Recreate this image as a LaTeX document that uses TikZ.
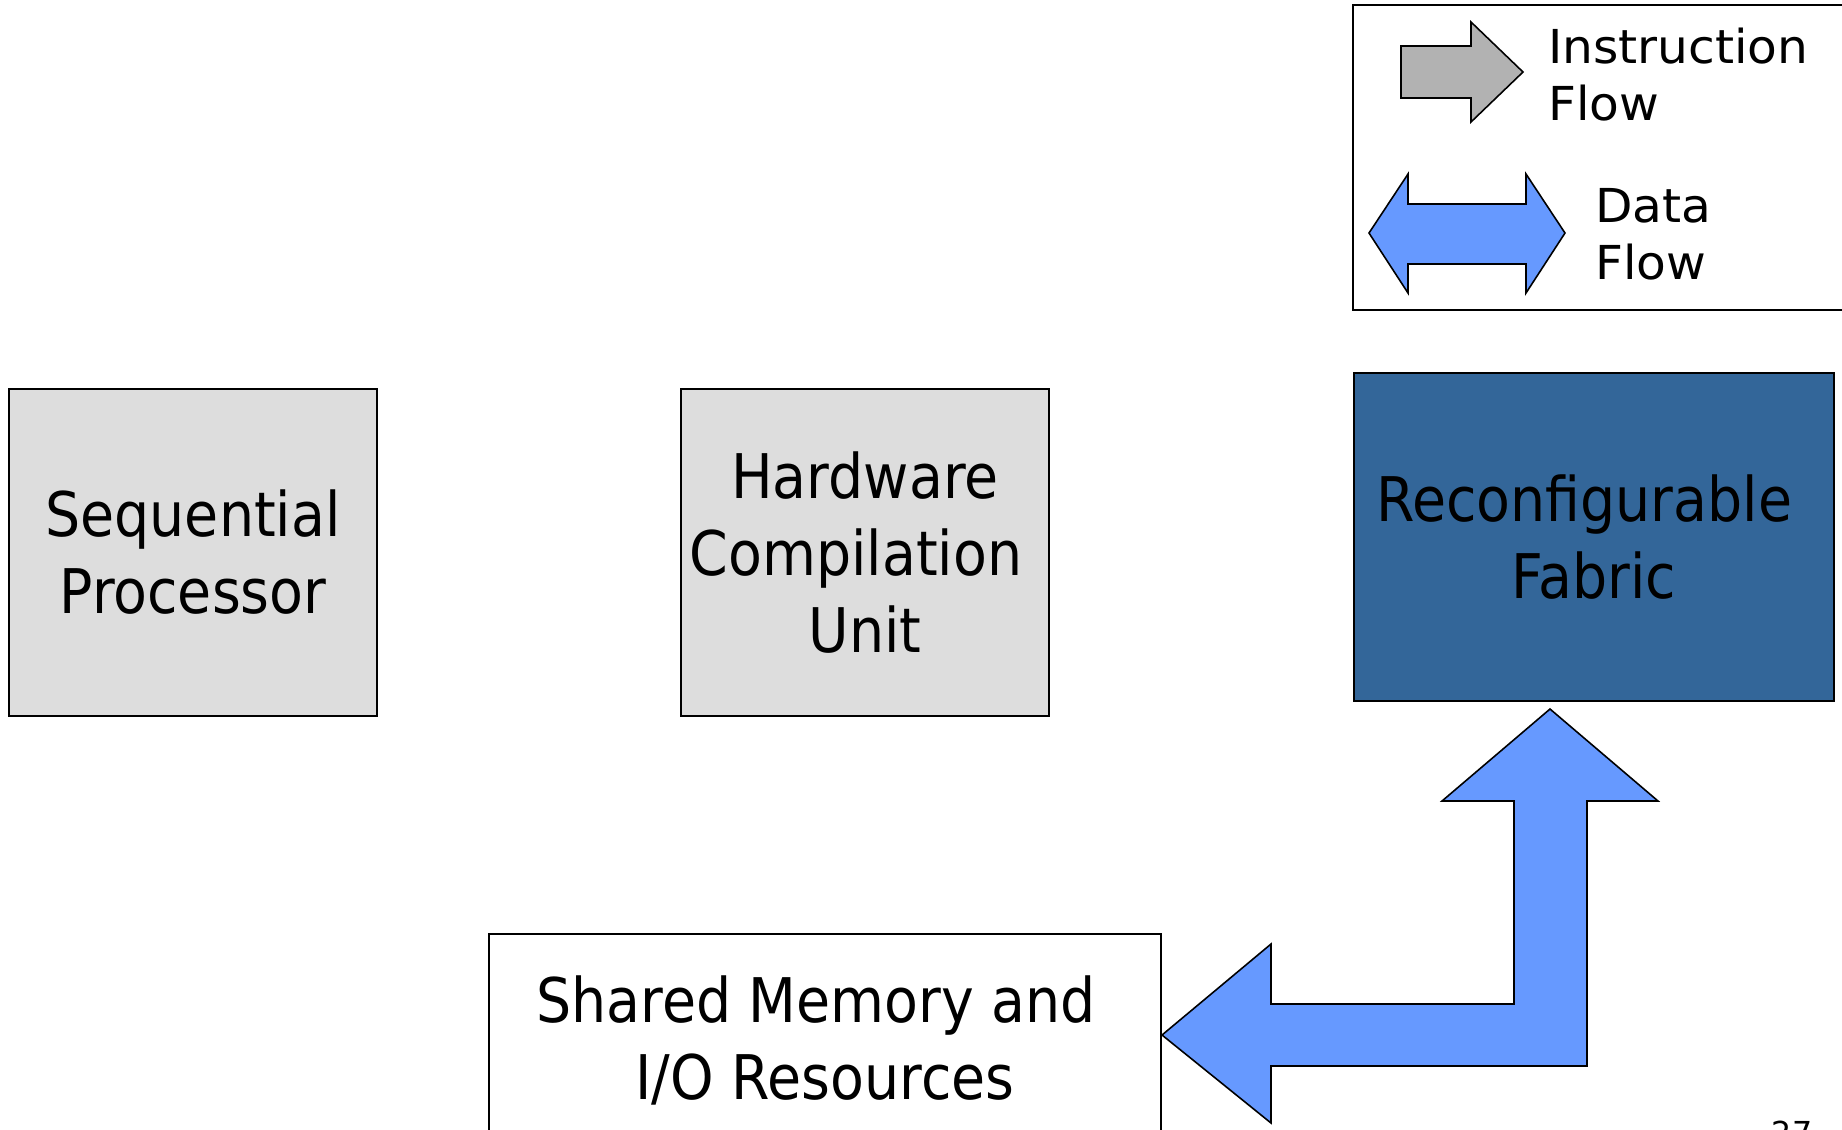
\documentclass[tikz,border=0pt]{standalone}
\usepackage{fontspec}
\setmainfont{DejaVu Sans}
\newfontfamily\boxfont{DejaVu Sans}[FakeStretch=0.90]
\newfontfamily\legendfont{DejaVu Sans}[FakeStretch=1.04]
\definecolor{boxgray}{HTML}{DDDDDD}
\definecolor{fabricblue}{HTML}{336699}
\definecolor{flowblue}{HTML}{6699FF}
\definecolor{instrgray}{HTML}{B2B2B2}
% trailing gap kept at the end of a centred line
\newcommand\trailgap[1]{\rule{#1}{0pt}}
\tikzset{
  unitbox/.style={draw=black, line width=0.6pt, inner sep=0pt, align=center,
    font=\boxfont\fontsize{17.5}{21.9}\selectfont},
  graybox/.style={unitbox, fill=boxgray, minimum width=3.68cm, minimum height=3.27cm},
  legendtext/.style={inner sep=0pt, align=left, anchor=west,
    font=\legendfont\fontsize{13.3}{16.2}\selectfont},
  blockarrow/.style={draw=black, line width=0.45pt, line join=miter},
}
\begin{document}
\begin{tikzpicture}[x=0.01cm, y=-0.01cm]
\useasboundingbox (0,0) rectangle (1842,1129);

% processing units
\node[graybox] (seq) at (193,552.5) {Sequential\\Processor};
\node[graybox] (hcu) at (865,552.5) {Hardware\\Compilation\trailgap{0.18cm}\\Unit};
\node[unitbox, fill=fabricblue, minimum width=4.80cm, minimum height=3.28cm]
  (fabric) at (1594,537) {Reconfigurable\trailgap{0.2cm}\\Fabric};
\node[unitbox, fill=white, minimum width=6.72cm, minimum height=2.12cm]
  (mem) at (825,1040) {Shared Memory and\trailgap{0.18cm}\\I/O Resources};

% data path between the fabric and memory
\draw[blockarrow, fill=flowblue]
  (1550,709) -- (1658,801) -- (1587,801) -- (1587,1066) -- (1271,1066)
  -- (1271,1123) -- (1162,1035) -- (1271,944) -- (1271,1004) -- (1514,1004)
  -- (1514,801) -- (1442,801) -- cycle;

% legend
\node[draw=black, line width=0.6pt, minimum width=5.47cm, minimum height=3.05cm,
  inner sep=0pt] (legend) at (1626.5,157.5) {};
\draw[blockarrow, fill=instrgray]
  (1401,46) -- (1471,46) -- (1471,22) -- (1523,72) -- (1471,122)
  -- (1471,98) -- (1401,98) -- cycle;
\node[legendtext] (instr) at (1547.5,74.5) {Instruction\\Flow};
\draw[blockarrow, fill=flowblue]
  (1369,233) -- (1408,174) -- (1408,204) -- (1526,204) -- (1526,174)
  -- (1565,233) -- (1526,293) -- (1526,264) -- (1408,264) -- (1408,293) -- cycle;
\node[legendtext] (data) at (1594.5,234.5) {Data\\Flow};

% page number
\node[inner sep=0pt, anchor=base, font=\fontsize{9}{11}\selectfont] (page) at (1792,1144) {27};
\end{tikzpicture}
\end{document}
